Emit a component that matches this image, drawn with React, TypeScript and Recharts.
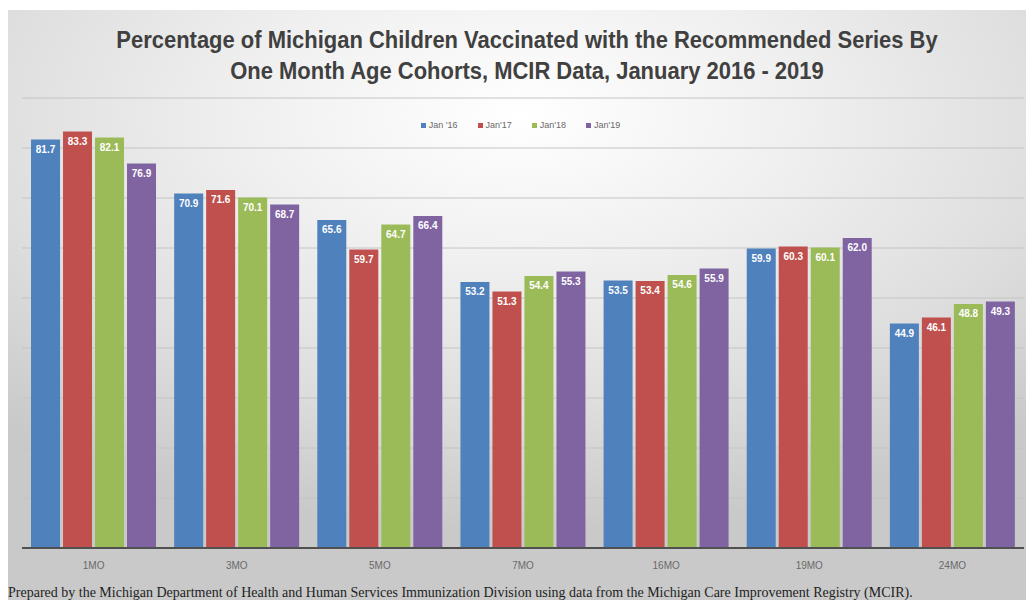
import { Bar, BarChart, CartesianGrid, LabelList, XAxis, YAxis } from "recharts";

const cohorts = ["1MO", "3MO", "5MO", "7MO", "16MO", "19MO", "24MO"];
const jan16 = [81.7, 70.9, 65.6, 53.2, 53.5, 59.9, 44.9];
const jan17 = [83.3, 71.6, 59.7, 51.3, 53.4, 60.3, 46.1];
const jan18 = [82.1, 70.1, 64.7, 54.4, 54.6, 60.1, 48.8];
const jan19 = [76.9, 68.7, 66.4, 55.3, 55.9, 62.0, 49.3];
const yTicks = [0, 10, 20, 30, 40, 50, 60, 70, 80, 90];

const series = [
  { key: "jan16", name: "Jan '16", color: "#4f81bd" },
  { key: "jan17", name: "Jan'17", color: "#c0504d" },
  { key: "jan18", name: "Jan'18", color: "#9bbb59" },
  { key: "jan19", name: "Jan'19", color: "#8064a2" },
];

const data = cohorts.map((cohort, i) => ({
  cohort,
  jan16: jan16[i],
  jan17: jan17[i],
  jan18: jan18[i],
  jan19: jan19[i],
}));

function LegendRow() {
  return (
    <div
      style={{
        position: "absolute",
        top: 110,
        left: 0,
        width: 1027,
        display: "flex",
        justifyContent: "center",
        gap: 20,
        fontFamily: "'Liberation Sans', sans-serif",
        fontSize: 9,
        color: "#6a6a6a",
      }}
    >
      {series.map((s) => (
        <span key={s.key} style={{ display: "flex", alignItems: "center", gap: 3 }}>
          <span style={{ width: 5, height: 5, background: s.color, display: "inline-block" }} />
          {s.name}
        </span>
      ))}
    </div>
  );
}

export default function App() {
  return (
    <div style={{ margin: -8, width: 1034, height: 609, background: "#fff", position: "relative", overflow: "hidden" }}>
      <div
        style={{
          position: "absolute",
          left: 7,
          top: 10,
          width: 1027,
          height: 590,
          background:
            "radial-gradient(ellipse 75% 70% at 50% 18%, #ffffff 0%, #f0f0f0 35%, #dedede 70%, #c9c9c9 100%)",
        }}
      >
        <div
          style={{
            position: "absolute",
            top: 14,
            left: 0,
            width: 1040,
            textAlign: "center",
            fontFamily: "'Liberation Sans', sans-serif",
            fontWeight: "bold",
            fontSize: 24,
            lineHeight: "31px",
            color: "#404040",
            transform: "scaleX(0.915)",
            transformOrigin: "520px 0",
          }}
        >
          Percentage of Michigan Children Vaccinated with the Recommended Series By
          <br />
          One Month Age Cohorts, MCIR Data, January 2016 - 2019
        </div>
        <LegendRow />
        <BarChart
          width={1027}
          height={590}
          data={data}
          margin={{ top: 88, right: 10, bottom: 22, left: 15 }}
          barCategoryGap="6.3%"
          barGap={3}
        >
          <CartesianGrid horizontal vertical={false} stroke="#c4c4c4" />
          <XAxis
            dataKey="cohort"
            height={30}
            axisLine={{ stroke: "#505050", strokeWidth: 2 }}
            tickLine={false}
            tick={{ fill: "#6a6a6a", fontSize: 10, fontFamily: "'Liberation Sans', sans-serif" }}
            dy={6}
          />
          <YAxis hide domain={[0, 90]} ticks={yTicks} />
          {series.map((s) => (
            <Bar key={s.key} dataKey={s.key} name={s.name} fill={s.color} isAnimationActive={false}>
              <LabelList
                dataKey={s.key}
                position="insideTop"
                offset={6}
                formatter={(v: number) => v.toFixed(1)}
                fill="#ffffff"
                fontSize={10}
                fontWeight="bold"
                fontFamily="'Liberation Sans', sans-serif"
              />
            </Bar>
          ))}
        </BarChart>
        <div
          style={{
            position: "absolute",
            left: 1,
            top: 575,
            fontFamily: "'Liberation Serif', serif",
            fontSize: 14,
            color: "#1e1e1e",
            whiteSpace: "nowrap",
          }}
        >
          Prepared by the Michigan Department of Health and Human Services Immunization Division using data from the Michigan Care Improvement Registry (MCIR).
        </div>
      </div>
    </div>
  );
}
